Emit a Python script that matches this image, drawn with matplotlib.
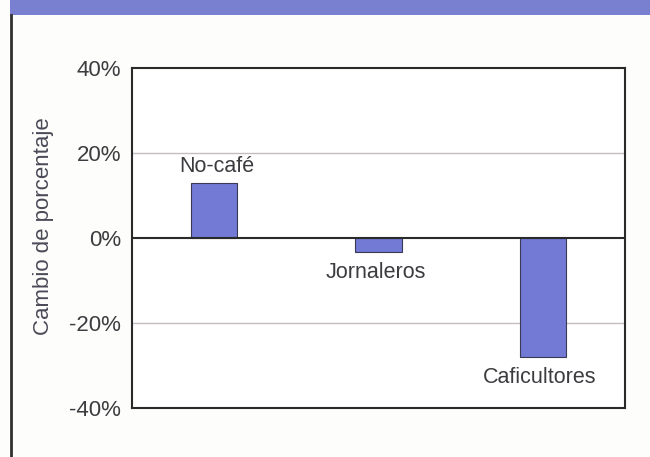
import matplotlib.pyplot as plt
from matplotlib.patches import Rectangle
from matplotlib.lines import Line2D

categories = ['No-café', 'Jornaleros', 'Caficultores']
values = [13, -3.3, -28]
yticks = [-40, -20, 0, 20, 40]

plt.rcParams['font.family'] = ['Liberation Sans', 'DejaVu Sans']
txt = '#3c3c40'
bar_col = '#727ad6'

fig = plt.figure(figsize=(6.5, 4.57), dpi=100)
fig.patch.set_facecolor('#fdfdfb')

# header band and left frame line
fig.patches.append(Rectangle((10/650, 1-15/457), 1, 15/457, transform=fig.transFigure,
                             facecolor='#7880cf', edgecolor='none'))
fig.lines.append(Line2D([11/650, 11/650], [0, 1-15/457], transform=fig.transFigure,
                        color='#303030', linewidth=2))

ax = fig.add_axes([132/650, 1-408/457, 493/650, 340/457])
ax.set_facecolor('white')
x = list(range(len(categories)))
ax.bar(x, values, width=0.28, color=bar_col, edgecolor='#3a3a55', linewidth=0.8, zorder=3)
ax.set_xlim(-0.5, 2.5)
ax.set_ylim(-40, 40)
ax.set_yticks(yticks)
ax.set_yticklabels([f'{t}%' for t in yticks], fontsize=16, color=txt)
ax.set_xticks([])
ax.tick_params(axis='y', length=0, pad=8)
for t in [-20, 20]:
    ax.axhline(t, color='#c4bcc0', linewidth=1, zorder=1)
ax.axhline(0, color='#2a2a2a', linewidth=1.5, zorder=4)
for s in ax.spines.values():
    s.set_color('#2a2a2a')
    s.set_linewidth(1.5)
ax.set_ylabel('Cambio de porcentaje', fontsize=16, color='#4a4a58')
ax.yaxis.set_label_coords(-0.158, 0.535)

# category labels next to the bars
for xi, v, c in zip(x, values, categories):
    if v > 0:
        ax.annotate(c, (xi, v), xytext=(2, 4), textcoords='offset points',
                    ha='center', va='bottom', fontsize=15.5, color=txt)
    else:
        ax.annotate(c, (xi, v), xytext=(-2, -7), textcoords='offset points',
                    ha='center', va='top', fontsize=15.5, color=txt)

fig.savefig('out.png', dpi=100, facecolor=fig.get_facecolor())
